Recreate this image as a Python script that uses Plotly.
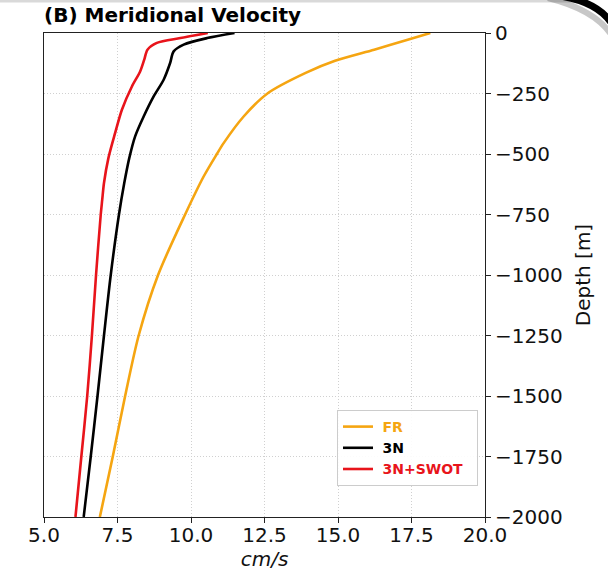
import plotly.graph_objects as go

# Data
fr_depth = [0, -28, -69, -115, -165, -250, -345, -455, -500, -593, -750, -1000, -1250, -1500, -1750, -2000]
fr_vel = [18.14, 17.37, 16.23, 14.90, 13.90, 12.60, 11.79, 11.11, 10.88, 10.43, 9.80, 8.88, 8.22, 7.76, 7.34, 6.90]

n3_depth = [0, -21, -48, -76, -124, -193, -262, -345, -427, -517, -620, -750, -1000, -1250, -1500, -1750, -2000]
n3_vel = [11.48, 10.55, 9.75, 9.41, 9.29, 9.07, 8.73, 8.39, 8.10, 7.90, 7.73, 7.55, 7.27, 7.04, 6.82, 6.59, 6.35]

sw_depth = [0, -21, -41, -69, -110, -159, -221, -317, -413, -517, -620, -690, -750, -1000, -1250, -1500, -1750, -2000]
sw_vel = [10.57, 9.64, 8.84, 8.52, 8.41, 8.27, 7.99, 7.65, 7.42, 7.19, 7.04, 6.98, 6.93, 6.77, 6.63, 6.47, 6.27, 6.07]

x_ticks = [5.0, 7.5, 10.0, 12.5, 15.0, 17.5, 20.0]
y_ticks = [0, -250, -500, -750, -1000, -1250, -1500, -1750, -2000]

ORANGE = "#F5A511"
RED = "#E8141B"
FONT = "DejaVu Sans"
NB = "\u00a0"

fig = go.Figure()
fig.add_trace(go.Scatter(x=fr_vel, y=fr_depth, mode="lines",
                         line=dict(color=ORANGE, width=2.6, shape="spline", smoothing=0.8),
                         name=f"{NB}<b><span style='color:{ORANGE}'>FR</span></b>"))
fig.add_trace(go.Scatter(x=n3_vel, y=n3_depth, mode="lines",
                         line=dict(color="black", width=2.6, shape="spline", smoothing=0.8),
                         name=f"{NB}<b>3N</b>"))
fig.add_trace(go.Scatter(x=sw_vel, y=sw_depth, mode="lines",
                         line=dict(color=RED, width=2.6, shape="spline", smoothing=0.8),
                         name=f"{NB}<b><span style='color:{RED}'>3N+SWOT</span></b>{NB}{NB}"))

L, R, T, B = 44, 123, 33, 56
W, H = 608, 573
pw, ph = W - L - R, H - T - B


def px(xp):
    return (xp - L) / pw


def py(yp):
    return (H - B - yp) / ph


shapes = [
    dict(type="line", xref="paper", yref="paper", x0=px(-5), x1=px(575), y0=py(1), y1=py(1),
         line=dict(color="#d9d9d9", width=3), layer="above"),
    dict(type="path", xref="paper", yref="paper",
         path=f"M {px(548)},{py(-2)} Q {px(596)},{py(10)} {px(612)},{py(36)}",
         line=dict(color="rgba(0,0,0,0.22)", width=6), layer="above"),
    dict(type="path", xref="paper", yref="paper",
         path=f"M {px(560)},{py(-4)} Q {px(598)},{py(2)} {px(612)},{py(24)}",
         line=dict(color="black", width=7), layer="above"),
]

grid = dict(showgrid=True, gridcolor="#d0d0d0", griddash="1px,2px", gridwidth=1)

fig.update_layout(
    width=W, height=H,
    margin=dict(l=L, r=R, t=T, b=B, pad=0),
    paper_bgcolor="white", plot_bgcolor="white",
    font=dict(family=FONT, size=20, color="#111"),
    showlegend=True,
    legend=dict(x=px(337), y=py(410), xanchor="left", yanchor="top",
                bgcolor="rgba(255,255,255,0.9)", bordercolor="#cccccc", borderwidth=1,
                font=dict(family=FONT, size=14, color="black"),
                tracegroupgap=0, itemwidth=30),
    shapes=shapes,
    annotations=[dict(text="<b>(B) Meridional Velocity</b>", xref="paper", yref="paper",
                      x=px(42), y=py(29), xanchor="left", yanchor="bottom", showarrow=False,
                      font=dict(family=FONT, size=20, color="black"))],
    xaxis=dict(range=[5, 20], tickvals=x_ticks, ticktext=[f"{v:.1f}" for v in x_ticks],
               **grid, automargin=False, ticklabelstandoff=-5,
               showline=True, linecolor="#222", linewidth=1, mirror=True,
               ticks="outside", ticklen=5, tickcolor="#222", zeroline=False,
               title=dict(text="<i>cm/s</i>", font=dict(family=FONT, size=20), standoff=4),
               tickfont=dict(family=FONT, size=20)),
    yaxis=dict(range=[-2000, 0], side="right", tickvals=y_ticks,
               ticktext=[("−" + str(-v)) if v < 0 else str(v) for v in y_ticks],
               **grid, automargin=False,
               showline=True, linecolor="#222", linewidth=1, mirror=True,
               ticks="outside", ticklen=5, tickcolor="#222", zeroline=False,
               title=dict(text="Depth [m]", font=dict(family=FONT, size=20), standoff=14),
               tickfont=dict(family=FONT, size=20)),
)

fig.write_html("out.html")
